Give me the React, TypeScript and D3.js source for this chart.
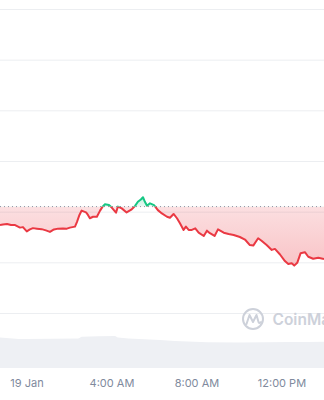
import React from "react";
import * as d3 from "d3";

// hours relative to 19 Jan 00:00
const hours = [
  -1.27, -1.13, -0.94, -0.75, -0.56, -0.42, -0.33, -0.19, -0.01, 0.14, 0.28, 0.47, 0.69, 0.89, 1.08, 1.27,
  1.46, 1.69, 1.88, 2.02, 2.26, 2.35, 2.47, 2.57, 2.78, 2.87, 2.96, 3.11, 3.29, 3.44, 3.56, 3.67,
  3.86, 3.99, 4.19, 4.28, 4.46, 4.69, 4.93, 5.08, 5.22, 5.36, 5.46, 5.55, 5.65, 5.79, 5.98, 6.16,
  6.35, 6.59, 6.73, 6.9, 7.06, 7.2, 7.37, 7.48, 7.61, 7.76, 7.92, 8.08, 8.32, 8.47, 8.61, 8.83,
  8.99, 9.26, 9.49, 9.73, 10.02, 10.26, 10.49, 10.65, 10.88, 11.04, 11.28, 11.52, 11.67, 11.91, 12.14, 12.3,
  12.46, 12.58, 12.72, 12.88, 13.08, 13.24, 13.47, 13.71, 13.98,
];
const prices = [
  1.1149, 1.1151, 1.1153, 1.1149, 1.1149, 1.1143, 1.1139, 1.1141, 1.1124, 1.1132, 1.1137, 1.1135, 1.1133, 1.1128, 1.1122, 1.1132,
  1.1135, 1.1136, 1.1135, 1.1139, 1.1143, 1.1161, 1.1189, 1.1206, 1.1199, 1.1189, 1.1176, 1.1182, 1.1182, 1.1206, 1.1222, 1.1231,
  1.1228, 1.1218, 1.1198, 1.1222, 1.1215, 1.1199, 1.1211, 1.1224, 1.1241, 1.125, 1.1259, 1.1241, 1.1225, 1.1235, 1.1228, 1.1208,
  1.1195, 1.1182, 1.1178, 1.1193, 1.1176, 1.1156, 1.113, 1.1143, 1.113, 1.113, 1.1136, 1.1119, 1.1106, 1.1127, 1.1117, 1.1106,
  1.1132, 1.1119, 1.1114, 1.111, 1.1102, 1.1092, 1.107, 1.1068, 1.1097, 1.1087, 1.107, 1.1051, 1.1055, 1.1033, 1.1007, 1.0995,
  1.0998, 1.0989, 1.1, 1.1038, 1.1042, 1.1024, 1.1016, 1.102, 1.1015,
];
const openPrice = 1.1222;

const volHours = [-1.27, -0.09, 2.4, 2.59, 4.14, 4.28, 6.26, 6.96, 10.02, 12.38, 13.98];
const volumes = [80.3, 76.3, 77.6, 82.4, 84.2, 80.3, 73.7, 71.1, 67.1, 68.4, 69.2];

const gridValues = [1.2, 1.18, 1.16, 1.14, 1.12, 1.1, 1.08];
const tickHours = [0, 4, 8, 12];
const tickLabels = ["19 Jan", "4:00 AM", "8:00 AM", "12:00 PM"];

const W = 324;
const H = 400;
const RED = "#ea3943";
const GREEN = "#16c784";

export default function App() {
  const x = d3.scaleLinear().domain([-1.27, 13.98]).range([0, W]);
  const y = d3.scaleLinear().domain([1.08, 1.2]).range([313.5, 9.5]);
  const yv = d3.scaleLinear().domain([0, 100]).range([368, 330]);

  const pts = hours.map((h, i) => [h, prices[i]] as [number, number]);
  const line = d3
    .line<[number, number]>()
    .x((d) => x(d[0]))
    .y((d) => y(d[1]));
  const area = d3
    .area<[number, number]>()
    .x((d) => x(d[0]))
    .y0(y(openPrice))
    .y1((d) => y(d[1]));
  const vpts = volHours.map((h, i) => [h, volumes[i]] as [number, number]);
  const varea = d3
    .area<[number, number]>()
    .x((d) => x(d[0]))
    .y0(yv(0))
    .y1((d) => yv(d[1]))
    .curve(d3.curveMonotoneX);

  const by = y(openPrice);
  const minY = y(d3.min(prices) as number);
  const maxY = y(d3.max(prices) as number);

  return (
    <svg
      width={W}
      height={H}
      style={{ position: "absolute", left: 0, top: 0, background: "#fff" }}
      fontFamily="Inter, 'Noto Sans', sans-serif"
    >
      <defs>
        <clipPath id="below">
          <rect x={0} y={by} width={W} height={H - by} />
        </clipPath>
        <clipPath id="above">
          <rect x={0} y={0} width={W} height={by} />
        </clipPath>
        <linearGradient id="redGrad" gradientUnits="userSpaceOnUse" x1={0} y1={by} x2={0} y2={minY}>
          <stop offset="0" stopColor={RED} stopOpacity={0.16} />
          <stop offset="1" stopColor={RED} stopOpacity={0.3} />
        </linearGradient>
        <linearGradient id="greenGrad" gradientUnits="userSpaceOnUse" x1={0} y1={by} x2={0} y2={maxY}>
          <stop offset="0" stopColor={GREEN} stopOpacity={0.1} />
          <stop offset="1" stopColor={GREEN} stopOpacity={0.25} />
        </linearGradient>
      </defs>

      {gridValues.map((v) => (
        <line key={v} x1={0} x2={W} y1={y(v)} y2={y(v)} stroke="#eceef1" strokeWidth={1} />
      ))}

      <path d={varea(vpts) || ""} fill="#eef0f4" />

      {/* watermark */}
      <g opacity={1}>
        <circle cx={253} cy={319} r={10} fill="none" stroke="#cdd1da" strokeWidth={2} />
        <path
          d="M246.5,324 L249.5,315 L253,322 L256.5,315 L258.5,322 Q259.5,324 261,322"
          fill="none"
          stroke="#cdd1da"
          strokeWidth={2}
          strokeLinejoin="round"
          strokeLinecap="round"
        />
        <text x={272.5} y={325} fontSize={15.5} fontWeight={600} fill="#cdd1da">
          CoinMarketCap
        </text>
      </g>

      <path d={area(pts) || ""} fill="url(#redGrad)" clipPath="url(#below)" />
      <path d={area(pts) || ""} fill="url(#greenGrad)" clipPath="url(#above)" />

      <line x1={0} x2={W} y1={by} y2={by} stroke="#8c93a3" strokeWidth={1} strokeDasharray="1 3" />

      <path d={line(pts) || ""} fill="none" stroke={RED} strokeWidth={2} strokeLinejoin="round" clipPath="url(#below)" />
      <path d={line(pts) || ""} fill="none" stroke={GREEN} strokeWidth={2} strokeLinejoin="round" clipPath="url(#above)" />

      {tickHours.map((h, i) => (
        <text key={h} x={x(h)} y={387} fontSize={11} fill="#808a9d" textAnchor="middle">
          {tickLabels[i]}
        </text>
      ))}
    </svg>
  );
}
